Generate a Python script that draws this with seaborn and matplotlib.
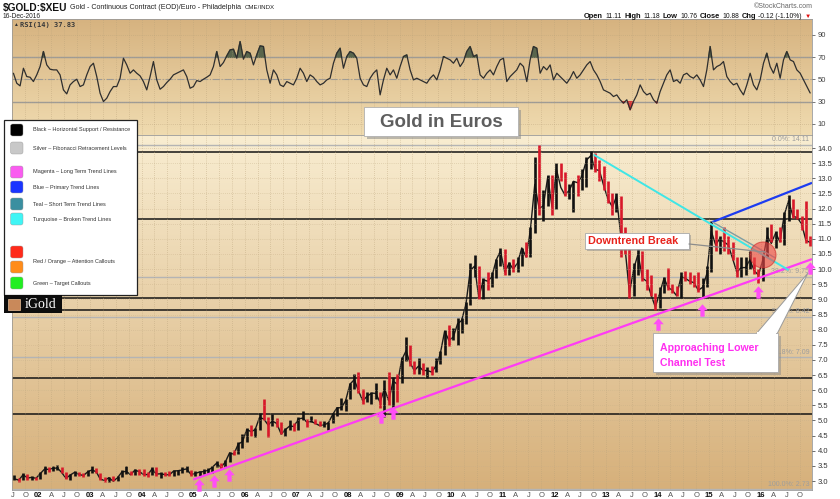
import numpy as np
import pandas as pd
import matplotlib
matplotlib.use("Agg")
import matplotlib.pyplot as plt
import matplotlib.dates as mdates
from matplotlib.path import Path
from matplotlib.markers import MarkerStyle
from matplotlib.patches import Rectangle, FancyBboxPatch, Polygon, Circle
import seaborn as sns

# ---------------- data ----------------
first_month = "2001-07"
closes = [3.07, 3.03, 3.21, 3.10, 3.12, 3.09,
          3.25, 3.40, 3.38, 3.42, 3.43, 3.28, 3.09, 3.20, 3.29, 3.22, 3.18, 3.30,
          3.37, 3.30, 3.06, 3.02, 3.11, 2.99, 3.11, 3.30, 3.32, 3.21, 3.36, 3.31,
          3.22, 3.21, 3.40, 3.23, 3.24, 3.21, 3.20, 3.33, 3.34, 3.37, 3.40, 3.22,
          3.25, 3.30, 3.31, 3.35, 3.45, 3.59, 3.45, 3.62, 3.93, 3.88, 4.22, 4.30,
          4.70, 4.63, 4.70, 5.10, 5.05, 4.85, 4.98, 4.90, 4.55, 4.70, 4.82, 4.80,
          5.05, 5.08, 4.95, 4.97, 4.90, 4.83, 4.85, 4.92, 5.20, 5.42, 5.42, 5.65,
          6.20, 6.35, 5.98, 5.65, 5.80, 5.90, 5.90, 5.60, 6.05, 5.65, 6.30, 6.20,
          7.00, 7.30, 6.90, 6.65, 6.80, 6.65, 6.65, 6.60, 6.80, 7.20, 7.95, 7.65,
          7.75, 8.20, 8.30, 8.85, 9.95, 10.10, 9.05, 9.65, 9.60, 9.75, 10.30, 10.60,
          9.90, 10.20, 10.00, 10.20, 10.70, 10.40, 11.30, 12.80, 12.00, 12.10, 13.05, 12.05,
          13.30, 12.70, 12.45, 12.60, 12.90, 12.85, 13.10, 13.60, 13.75, 13.30, 13.25, 12.75,
          12.30, 12.05, 12.40, 11.10, 10.70, 9.20, 10.00, 10.50, 9.70, 9.60, 9.15, 8.75,
          9.20, 9.70, 9.40, 9.30, 9.12, 9.75, 9.70, 9.60, 9.55, 9.30, 9.40, 9.85,
          11.25, 10.80, 11.00, 10.90, 10.80, 10.35, 9.90, 10.05, 10.05, 10.30, 9.95, 9.80,
          10.30, 11.10, 10.85, 11.20, 10.90, 11.80, 12.25, 11.75, 11.70, 11.50, 10.95, 10.88]
highs = [3.20, 3.10, 3.28, 3.22, 3.16, 3.12,
         3.29, 3.48, 3.46, 3.48, 3.52, 3.47, 3.30, 3.22, 3.34, 3.31, 3.25, 3.38,
         3.50, 3.44, 3.28, 3.12, 3.14, 3.16, 3.17, 3.35, 3.48, 3.34, 3.40, 3.40,
         3.40, 3.30, 3.45, 3.45, 3.30, 3.30, 3.32, 3.38, 3.38, 3.45, 3.48, 3.38,
         3.32, 3.33, 3.40, 3.42, 3.50, 3.66, 3.60, 3.70, 3.95, 4.02, 4.28, 4.55,
         4.75, 4.85, 4.75, 5.25, 5.72, 5.10, 5.20, 5.08, 4.95, 4.75, 5.00, 4.92,
         5.10, 5.30, 5.05, 5.15, 5.05, 4.98, 4.98, 4.95, 5.25, 5.45, 5.75, 5.70,
         6.25, 6.55, 6.60, 6.05, 5.95, 5.95, 6.25, 5.95, 6.35, 6.60, 6.45, 6.55,
         7.10, 7.75, 7.50, 6.95, 7.05, 6.90, 6.75, 6.80, 7.05, 7.30, 8.00, 8.15,
         8.05, 8.40, 8.40, 8.90, 10.20, 10.45, 10.10, 9.70, 9.90, 9.90, 10.35, 10.70,
         10.65, 10.25, 10.35, 10.40, 10.70, 10.90, 11.40, 13.70, 14.11, 12.60, 13.10, 13.10,
         13.50, 13.50, 13.20, 12.80, 12.90, 13.10, 13.30, 13.70, 13.90, 13.85, 13.60, 13.40,
         12.90, 12.50, 12.50, 12.40, 11.40, 10.80, 10.20, 10.70, 10.60, 10.00, 9.80, 9.20,
         9.40, 9.75, 10.05, 9.50, 9.45, 9.90, 9.95, 9.90, 9.80, 9.90, 9.70, 10.10,
         11.60, 11.30, 11.10, 11.40, 11.10, 10.90, 10.40, 10.40, 10.40, 10.60, 10.40, 10.00,
         10.50, 11.40, 11.50, 11.25, 11.40, 11.90, 12.45, 12.30, 12.00, 11.75, 12.25, 11.10]
lows = [3.02, 2.98, 3.02, 3.05, 3.04, 3.02,
        3.08, 3.24, 3.30, 3.34, 3.36, 3.26, 3.06, 3.05, 3.17, 3.17, 3.12, 3.15,
        3.28, 3.26, 3.05, 2.97, 2.98, 2.99, 3.00, 3.12, 3.22, 3.20, 3.20, 3.20,
        3.15, 3.12, 3.20, 3.18, 3.10, 3.15, 3.15, 3.18, 3.20, 3.25, 3.30, 3.16,
        3.15, 3.15, 3.22, 3.25, 3.28, 3.45, 3.40, 3.45, 3.62, 3.85, 3.88, 4.10,
        4.28, 4.50, 4.45, 4.70, 5.00, 4.45, 4.82, 4.80, 4.55, 4.50, 4.68, 4.65,
        4.70, 5.00, 4.78, 4.95, 4.88, 4.82, 4.80, 4.70, 4.92, 5.15, 5.35, 5.30,
        5.70, 6.05, 5.90, 5.55, 5.60, 5.55, 5.70, 5.40, 5.10, 5.50, 5.40, 5.60,
        6.25, 6.95, 6.80, 6.55, 6.55, 6.50, 6.40, 6.50, 6.60, 6.85, 7.15, 7.45,
        7.65, 7.50, 7.90, 8.20, 8.80, 9.75, 9.00, 9.00, 9.30, 9.40, 9.70, 10.10,
        9.80, 9.80, 9.90, 9.90, 10.10, 10.40, 10.40, 11.20, 11.80, 11.60, 12.10, 11.80,
        12.00, 12.90, 12.40, 12.30, 11.90, 12.40, 12.60, 12.70, 13.30, 13.20, 12.90, 12.60,
        12.20, 11.80, 11.90, 10.40, 10.50, 9.05, 9.10, 9.80, 9.60, 9.30, 9.10, 8.65,
        8.70, 9.20, 9.30, 9.20, 9.10, 9.05, 9.60, 9.50, 9.40, 9.25, 9.05, 9.40,
        9.90, 10.60, 10.50, 10.60, 10.50, 10.30, 9.75, 9.75, 9.80, 10.00, 9.85, 9.55,
        9.60, 10.40, 10.90, 10.70, 10.90, 10.80, 11.60, 11.70, 11.65, 11.30, 10.85, 10.76]

rsi_first, rsi_last = "2001-07-08", "2016-12-15"
rsi_values = [55.6, 46.6, 44.2, 60.1, 52.6, 52.0, 48.1, 54.1, 61.6, 75.1,
              63.1, 59.2, 58.6, 58.6, 54.1, 40.6, 37.0, 45.1, 48.1, 50.2,
              43.6, 45.1, 54.1, 61.6, 64.6, 52.6, 37.6, 30.1, 33.1, 39.1,
              43.6, 43.6, 51.1, 69.1, 63.1, 55.6, 58.6, 55.6, 53.2, 48.1,
              40.6, 52.6, 66.1, 49.6, 41.2, 43.6, 47.2, 50.2, 54.1, 55.6,
              57.1, 58.6, 52.6, 42.1, 43.6, 49.0, 48.1, 50.2, 52.0, 54.1,
              61.6, 75.1, 61.6, 65.2, 71.2, 76.6, 77.2, 69.1, 84.1, 68.2,
              75.1, 73.6, 63.1, 72.1, 80.2, 79.6, 58.6, 46.6, 58.6, 54.1,
              45.1, 43.6, 48.1, 46.6, 45.1, 51.1, 60.1, 55.6, 48.1, 54.1,
              52.0, 48.1, 45.1, 46.6, 49.6, 51.1, 64.6, 73.6, 78.1, 60.1,
              70.6, 75.1, 73.6, 69.1, 51.1, 45.1, 43.6, 51.1, 55.6, 58.6,
              36.1, 49.6, 60.1, 54.1, 58.6, 51.1, 61.6, 70.6, 72.1, 58.6,
              49.6, 51.1,
              49.6, 48.1, 46.6, 51.1, 54.1, 49.6, 58.6, 70.6, 69.1, 67.6,
              64.6, 69.1, 61.6, 66.1, 75.1, 79.6, 70.6, 72.1, 54.1, 51.1,
              55.6, 58.6, 54.1, 61.6, 67.6, 69.1, 48.1, 52.6, 55.6, 58.6,
              64.6, 61.6, 48.1, 67.6, 79.6, 78.1, 55.6, 61.6, 58.6, 63.1,
              49.6, 55.6, 52.6, 49.6, 46.6, 51.1, 57.1, 51.1, 54.1, 58.6,
              63.1, 66.1, 58.6, 54.1, 48.1, 40.6, 39.1, 37.6, 34.6, 36.1,
              31.7, 28.7, 31.7, 22.7, 30.2, 36.1, 45.1, 39.1, 36.1, 37.6,
              31.7, 28.7, 39.1, 46.6, 54.1, 58.6, 48.1, 49.6, 46.6, 54.1,
              55.6, 52.6, 51.1, 54.1, 49.6, 43.6, 58.6, 79.6, 58.6, 61.6,
              63.1, 66.1, 52.6, 48.1, 45.1, 46.6, 40.6, 36.1, 45.1, 55.6,
              45.1, 40.6, 49.6, 64.6, 73.6, 61.6, 55.6, 64.6, 51.1, 67.6,
              75.1, 67.6, 66.1, 58.6, 55.6, 49.6, 43.6, 37.8]

support_levels = [13.87, 11.65, 9.04, 8.65, 6.40, 5.21]
fib_levels = [14.11, 9.75, 8.42, 7.09, 2.73]
fib_labels = ["0.0%: 14.11", "38.2%: 9.75", "50.0%: 8.42", "61.8%: 7.09", "100.0%: 2.73"]
magenta_trend = [("2005-01-01", 3.05), ("2016-12-28", 10.33)]
blue_trend = [("2015-01-20", 11.55), ("2016-12-28", 12.85)]
cyan_trend = [("2012-10-05", 13.78), ("2016-07-15", 9.97)]
teal_trend = [("2015-01-22", 11.56), ("2016-04-12", 10.37)]
arrow_dates = ["2005-02-10", "2005-05-27", "2005-09-12", "2008-08-22", "2008-11-14",
               "2014-01-04", "2014-11-10", "2015-12-14", "2016-12-15"]
arrow_prices = [2.87, 3.00, 3.20, 5.11, 5.25, 8.19, 8.65, 9.24, 10.04]

legend_entries = [("#000000", "Black \u2013 Horizontal Support / Resistance"),
                  ("#c8c8c8", "Silver \u2013 Fibonacci Retracement Levels"),
                  ("#fa5cf0", "Magenta \u2013 Long Term Trend Lines"),
                  ("#1a35ff", "Blue \u2013 Primary Trend Lines"),
                  ("#3a8fa0", "Teal \u2013 Short Term Trend Lines"),
                  ("#40f5f5", "Turquoise \u2013 Broken Trend Lines"),
                  ("#ff2a1a", ""),
                  ("#ff8c1a", "Red / Orange \u2013 Attention Callouts"),
                  ("#22ee22", "Green \u2013 Target Callouts")]

header_quote = [("Open", True), ("11.11", False), ("High", True), ("11.18", False),
                ("Low", True), ("10.76", False), ("Close", True), ("10.88", False),
                ("Chg", True), ("-0.12 (-1.10%)", False)]

# ---------------- style ----------------
sns.set_theme(style="white")
plt.rcParams["font.family"] = ["Liberation Sans", "DejaVu Sans"]

W, H = 840, 499
fig = plt.figure(figsize=(8.4, 4.99), dpi=100)
fig.patch.set_facecolor("white")

def fr(x0, y_top, x1, y_bot):
    return [x0 / W, 1 - y_bot / H, (x1 - x0) / W, (y_bot - y_top) / H]

ax_rsi = fig.add_axes(fr(12, 19, 812, 135))
ax = fig.add_axes(fr(12, 135, 812, 489.5))

xmin = mdates.date2num(pd.Timestamp("2001-06-28"))
xmax = mdates.date2num(pd.Timestamp("2016-12-28"))

def gradient(a, top, bot, ylo, yhi):
    g = np.linspace(0, 1, 256)[:, None, None]
    img = np.array(top)[None, None, :] * (1 - g) + np.array(bot)[None, None, :] * g
    a.imshow(img, extent=[xmin, xmax, ylo, yhi], aspect="auto", origin="upper", zorder=0)

RSI_LO, RSI_HI = 0, 104.4
P_LO, P_HI = 2.72, 14.43
gradient(ax_rsi, (0.84, 0.70, 0.50), (0.94, 0.86, 0.69), RSI_LO, RSI_HI)
gradient(ax, (0.975, 0.93, 0.82), (0.84, 0.69, 0.48), P_LO, P_HI)

quarters = pd.date_range("2001-07-01", "2016-10-01", freq="QS-JAN")
qnum = mdates.date2num(quarters)
qlabels = [f"{d.year % 100:02d}" if d.month == 1 else {4: "A", 7: "J", 10: "O"}[d.month] for d in quarters]

for a in (ax_rsi, ax):
    a.set_xlim(xmin, xmax)
    a.set_xticks(qnum)
    a.grid(True, axis="x", ls=(0, (1, 2)), lw=0.5, color="#b9a27a", alpha=0.8, zorder=0.5)
    for s in a.spines.values():
        s.set_color("#9a9a9a")
        s.set_linewidth(0.6)
    a.set_axisbelow(False)

# ---------------- RSI panel ----------------
rsi_dates = pd.date_range(rsi_first, rsi_last, periods=len(rsi_values))
rsi_num = mdates.date2num(rsi_dates)
rsi = np.array(rsi_values)
ax_rsi.set_ylim(RSI_LO, RSI_HI)
ax_rsi.set_yticks([10, 30, 50, 70, 90])
ax_rsi.grid(True, axis="y", ls=(0, (1, 2)), lw=0.5, color="#b9a27a", alpha=0.8)
ax_rsi.axhline(70, color="#9a9a9a", lw=1.0, zorder=1)
ax_rsi.axhline(30, color="#9a9a9a", lw=1.0, zorder=1)
ax_rsi.axhline(50, color="#9a9a9a", lw=0.8, ls="-.", zorder=1)
ax_rsi.fill_between(rsi_num, rsi, 70, where=rsi > 70, interpolate=True, color="#59654c", zorder=2)
ax_rsi.fill_between(rsi_num, rsi, 30, where=rsi < 30, interpolate=True, color="#d83a3a", zorder=2)
sns.lineplot(x=rsi_num, y=rsi, ax=ax_rsi, color="#2e2e2e", lw=0.9, zorder=3)
ax_rsi.set_xlabel("")
ax_rsi.set_ylabel("")
ax_rsi.tick_params(axis="x", length=0, labelbottom=False)
ax_rsi.tick_params(axis="y", left=False, right=True, labelleft=False, labelright=True,
                   labelsize=5.5, colors="#444444", length=2, width=0.5, pad=2)
ax_rsi.set_xlim(xmin, xmax)

# ---------------- price panel ----------------
ax.set_ylim(P_LO, P_HI)
months = pd.date_range(first_month + "-01", periods=len(closes), freq="MS") + pd.Timedelta(days=14)
mnum = mdates.date2num(months)
prev = [closes[0]] + closes[:-1]
bar_colors = ["#d8182a" if c < p else "#111111" for c, p in zip(closes, prev)]

ax.set_yticks(np.arange(3.0, 14.01, 0.5))
ax.set_yticklabels([f"{v:.1f}" for v in np.arange(3.0, 14.01, 0.5)])
ax.grid(True, axis="y", ls=(0, (1, 2)), lw=0.5, color="#c7b08a", alpha=0.8)

for lv in fib_levels:
    ax.axhline(lv, color="#b4b4b4", lw=1.0, zorder=1)
for lv, lab in zip(fib_levels, fib_labels):
    ax.annotate(lab, (1, lv), xycoords=("axes fraction", "data"), xytext=(-2, 1.2),
                textcoords="offset points", ha="right", va="bottom", fontsize=5,
                color="#9d9d9d", zorder=1.5)
for lv in support_levels:
    ax.axhline(lv, color="#141414", lw=1.1, zorder=1.2)

sns.lineplot(x=mnum, y=closes, ax=ax, color="#1a1a1a", lw=1.0, zorder=2)
ax.vlines(mnum, lows, highs, colors=bar_colors, lw=1.9, zorder=2.1)
ax.set_xlabel("")
ax.set_ylabel("")

def trend(a, pts, color, lw):
    xs = mdates.date2num(pd.to_datetime([p[0] for p in pts]))
    ys = [p[1] for p in pts]
    a.plot(xs, ys, color=color, lw=lw, zorder=3, solid_capstyle="butt")

trend(ax, magenta_trend, "#ff3cf5", 1.6)
trend(ax, blue_trend, "#1d3cf0", 1.6)
trend(ax, cyan_trend, "#3fe6e6", 1.4)
trend(ax, teal_trend, "#7f9ea2", 1.0)

arrow_path = Path([(0, 0.5), (0.42, 0.02), (0.17, 0.02), (0.17, -0.5), (-0.17, -0.5),
                   (-0.17, 0.02), (-0.42, 0.02), (0, 0.5)], closed=True)
ax.scatter(mdates.date2num(pd.to_datetime(arrow_dates)), arrow_prices, marker=MarkerStyle(arrow_path),
           s=80, c="#ff4ef6", linewidths=0, zorder=5, clip_on=False)

ax.set_xticks(qnum)
ax.set_xticklabels(qlabels)
for lab, d in zip(ax.get_xticklabels(), quarters):
    if d.month == 1:
        lab.set_fontweight("bold")
        lab.set_color("#111111")
    else:
        lab.set_color("#555555")
ax.tick_params(axis="x", length=0, labelsize=5.5, pad=1.5)
ax.tick_params(axis="y", left=False, right=True, labelleft=False, labelright=True,
               labelsize=5.5, colors="#333333", length=2, width=0.5, pad=2)
ax.set_xlim(xmin, xmax)

# ---------------- overlay (annotations in pixel space) ----------------
ov = fig.add_axes([0, 0, 1, 1], zorder=10)
ov.set_xlim(0, W)
ov.set_ylim(H, 0)
ov.axis("off")
ov.patch.set_alpha(0)

fig.canvas.draw()
rend = fig.canvas.get_renderer()

def seq_text(x, y, pieces, gap=2.5):
    for t, kw in pieces:
        o = ov.text(x, y, t, va="center", **kw)
        x += o.get_window_extent(renderer=rend).width + gap
    return x

# header (left)
seq_text(3, 7.5, [("\\$GOLD:\\$XEU", dict(fontsize=7.3, fontweight="bold", color="#111")),
                  ("Gold - Continuous Contract (EOD)/Euro - Philadelphia", dict(fontsize=5.1, color="#222")),
                  ("CME/INDX", dict(fontsize=4.4, color="#222"))], gap=3)
ov.text(3, 16, "16-Dec-2016", fontsize=4.8, color="#222", va="center")
ov.text(813, 6, "\u00a9StockCharts.com", fontsize=5, color="#666", va="center", ha="right")

# header (right) quote line, laid out so it ends before the red triangle
pieces = [(t, dict(fontsize=5.4 if b else 4.9, fontweight="bold" if b else "normal", color="#111"))
          for t, b in header_quote]
tmp = [ov.text(0, 0, t, **kw) for t, kw in pieces]
total = sum(o.get_window_extent(renderer=rend).width for o in tmp) + 2.5 * (len(tmp) - 1)
for o in tmp:
    o.remove()
seq_text(802 - total, 16.5, pieces)
ov.text(805, 16.5, "\u25bc", fontsize=4.5, color="#e01010", va="center")
ov.text(13, 24.5, "\u25b2", fontsize=3.5, color="#333", va="center")
ov.text(20, 24.5, "RSI(14) 37.83", fontsize=5, fontweight="bold", color="#3a3a3a", va="center",
        family="DejaVu Sans Mono")

# legend box
ov.add_patch(Rectangle((4, 120), 133, 175, facecolor="white", edgecolor="#222222", lw=0.9))
sq_y = [130, 148, 172, 187, 204, 219, 252, 267, 283]
tx_y = [130, 148, 172, 187, 204, 219, 252, 262, 284]
for (col, lab), sy, ty in zip(legend_entries, sq_y, tx_y):
    ov.add_patch(FancyBboxPatch((10.5, sy - 6), 12.5, 12, boxstyle="round,pad=0,rounding_size=2.2",
                                fc=col, ec="#9a9a9a", lw=0.3))
    if lab:
        ov.text(33, ty, lab, fontsize=4.0, color="#333333", va="center")
ov.add_patch(Rectangle((4, 295), 58, 18, facecolor="#0d0d0d", edgecolor="none"))
ov.add_patch(Rectangle((8, 298.5), 12, 11, facecolor="#c9895a", edgecolor="#e8c09a", lw=0.5))
ov.text(25, 304.5, "iGold", fontsize=10, color="white", va="center", family="Liberation Serif")

# title box
ov.add_patch(Rectangle((366.5, 109.5), 154, 29, facecolor="#8a8a8a", alpha=0.55, edgecolor="none"))
ov.add_patch(Rectangle((364, 107), 154, 29, facecolor="white", edgecolor="#b0b0b0", lw=0.6))
ov.text(441, 122, "Gold in Euros", fontsize=13.5, fontweight="bold", color="#5e5e5e",
        ha="center", va="center")

# downtrend break callout
ov.plot([689, 765], [244, 252], color="#8c8c8c", lw=0.9)
ov.add_patch(Circle((763, 255), 13, facecolor="#f04848", alpha=0.6, edgecolor="#d02828", lw=0.8))
ov.add_patch(Rectangle((587, 235), 104, 15.5, facecolor="#8a8a8a", alpha=0.5, edgecolor="none"))
ov.add_patch(Rectangle((585, 233), 104, 15.5, facecolor="white", edgecolor="#a8a8a8", lw=0.6))
ov.text(588, 241, "Downtrend Break", fontsize=7.8, fontweight="bold", color="#e8231c", va="center")

# approaching lower channel test callout
ov.add_patch(Polygon([(756, 334), (777, 334), (808, 273)], closed=True, facecolor="white",
                     edgecolor="#9a9a9a", lw=0.7))
ov.add_patch(Rectangle((655.5, 335.5), 125, 39, facecolor="#8a8a8a", alpha=0.5, edgecolor="none"))
ov.add_patch(Rectangle((653, 333), 125, 39, facecolor="white", edgecolor="#a8a8a8", lw=0.6))
ov.add_patch(Rectangle((757, 332), 19, 3, facecolor="white", edgecolor="none"))
ov.text(660, 348, "Approaching Lower", fontsize=7.6, fontweight="bold", color="#ff2ef0", va="center")
ov.text(660, 363, "Channel Test", fontsize=7.6, fontweight="bold", color="#ff2ef0", va="center")

fig.savefig("out.png", dpi=100)
